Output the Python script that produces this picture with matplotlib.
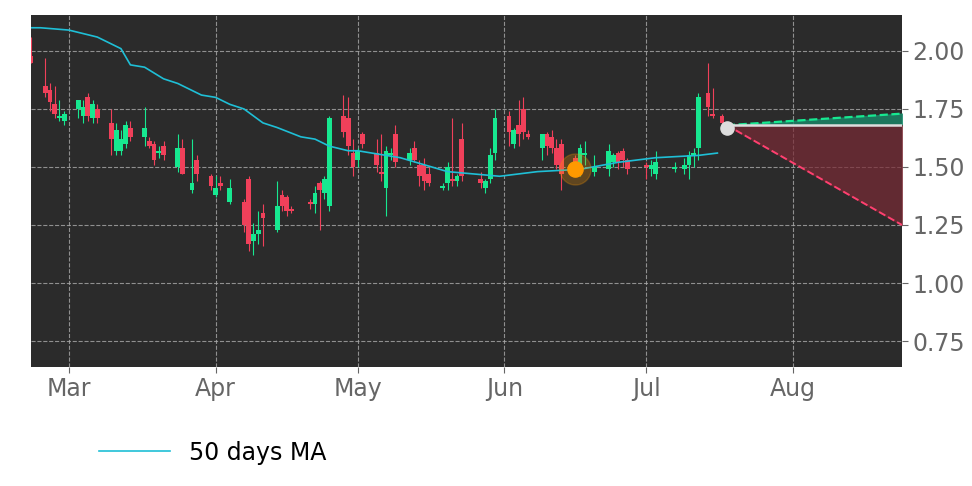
import matplotlib.pyplot as plt
import matplotlib.dates as mdates
import numpy as np
import pandas as pd

base = pd.Timestamp('2021-03-01')

# candles: day offset from Mar 1, open, high, low, close
day = [-8, -5, -4, -3, -2, -1, 2, 3, 4, 5, 6, 9, 10, 11, 12, 13, 16, 17, 18, 19, 20,
       23, 24, 26, 27, 30, 31, 32, 34, 37, 38, 39, 40, 41, 44, 45, 46, 47, 51, 52, 53,
       54, 55, 58, 59, 60, 61, 62, 65, 66, 67, 68, 69, 72, 73, 74, 75, 76, 79, 80, 81,
       82, 83, 87, 88, 89, 90, 93, 94, 95, 96, 97, 100, 101, 102, 103, 104, 107, 108,
       109, 111, 114, 115, 116, 117, 118, 122, 123, 124, 128, 130, 131, 132, 133, 135,
       136, 138]
opn = [1.98, 1.85, 1.83, 1.77, 1.71, 1.70, 1.75, 1.72, 1.80, 1.71, 1.75, 1.69, 1.57, 1.57,
       1.60, 1.67, 1.63, 1.61, 1.60, 1.56, 1.59, 1.50, 1.58, 1.40, 1.53, 1.46, 1.38, 1.43,
       1.35, 1.35, 1.45, 1.18, 1.21, 1.30, 1.23, 1.38, 1.37, 1.32, 1.35, 1.34, 1.43, 1.39,
       1.33, 1.72, 1.71, 1.56, 1.53, 1.64, 1.56, 1.48, 1.41, 1.55, 1.64, 1.53, 1.58, 1.51,
       1.51, 1.47, 1.41, 1.43, 1.45, 1.44, 1.62, 1.45, 1.41, 1.45, 1.56, 1.72, 1.60, 1.68,
       1.75, 1.64, 1.58, 1.64, 1.63, 1.58, 1.60, 1.54, 1.49, 1.55, 1.48, 1.49, 1.52, 1.56,
       1.57, 1.53, 1.51, 1.49, 1.47, 1.49, 1.49, 1.51, 1.55, 1.58, 1.82, 1.73, 1.72]
high = [2.06, 1.97, 1.86, 1.85, 1.79, 1.74, 1.78, 1.79, 1.82, 1.79, 1.77, 1.75, 1.69, 1.66,
        1.70, 1.70, 1.76, 1.63, 1.61, 1.59, 1.61, 1.64, 1.62, 1.62, 1.55, 1.47, 1.46, 1.46,
        1.45, 1.36, 1.46, 1.26, 1.31, 1.34, 1.44, 1.40, 1.38, 1.33, 1.36, 1.42, 1.44, 1.46,
        1.72, 1.81, 1.80, 1.62, 1.58, 1.65, 1.62, 1.64, 1.59, 1.58, 1.68, 1.58, 1.61, 1.53,
        1.54, 1.50, 1.43, 1.52, 1.71, 1.47, 1.69, 1.48, 1.45, 1.58, 1.75, 1.74, 1.67, 1.79,
        1.80, 1.66, 1.64, 1.65, 1.66, 1.62, 1.62, 1.55, 1.60, 1.61, 1.55, 1.60, 1.56, 1.57,
        1.58, 1.54, 1.52, 1.53, 1.57, 1.52, 1.54, 1.57, 1.58, 1.82, 1.95, 1.84, 1.73]
low = [1.95, 1.80, 1.74, 1.71, 1.70, 1.68, 1.71, 1.69, 1.70, 1.69, 1.69, 1.55, 1.55, 1.55,
       1.58, 1.61, 1.59, 1.58, 1.51, 1.54, 1.53, 1.48, 1.47, 1.39, 1.44, 1.40, 1.37, 1.40,
       1.34, 1.22, 1.14, 1.12, 1.17, 1.16, 1.22, 1.31, 1.29, 1.30, 1.32, 1.30, 1.23, 1.36,
       1.31, 1.63, 1.55, 1.46, 1.50, 1.58, 1.48, 1.44, 1.29, 1.53, 1.50, 1.51, 1.52, 1.42,
       1.40, 1.42, 1.40, 1.40, 1.42, 1.42, 1.44, 1.41, 1.39, 1.43, 1.53, 1.59, 1.58, 1.59,
       1.62, 1.62, 1.53, 1.55, 1.56, 1.49, 1.40, 1.46, 1.46, 1.51, 1.46, 1.46, 1.50, 1.49,
       1.50, 1.47, 1.45, 1.46, 1.45, 1.48, 1.47, 1.45, 1.50, 1.53, 1.72, 1.71, 1.67]
close = [1.95, 1.82, 1.78, 1.73, 1.72, 1.73, 1.79, 1.76, 1.72, 1.77, 1.71, 1.62, 1.66, 1.62,
         1.68, 1.63, 1.67, 1.59, 1.53, 1.57, 1.55, 1.58, 1.47, 1.43, 1.47, 1.42, 1.41, 1.42,
         1.41, 1.25, 1.17, 1.21, 1.23, 1.28, 1.33, 1.33, 1.31, 1.31, 1.34, 1.39, 1.40, 1.45,
         1.71, 1.65, 1.59, 1.50, 1.57, 1.60, 1.51, 1.47, 1.57, 1.56, 1.52, 1.56, 1.53, 1.46,
         1.44, 1.43, 1.42, 1.50, 1.44, 1.46, 1.46, 1.43, 1.44, 1.55, 1.71, 1.65, 1.66, 1.64,
         1.65, 1.63, 1.64, 1.59, 1.58, 1.51, 1.47, 1.51, 1.58, 1.56, 1.50, 1.57, 1.55, 1.52,
         1.53, 1.49, 1.50, 1.51, 1.52, 1.50, 1.51, 1.55, 1.56, 1.80, 1.76, 1.72, 1.69]

# 50 day moving average
ma_day = [-9, -6, 0, 6, 11, 13, 16, 20, 23, 28, 31, 34, 37, 41, 44, 49, 52, 55, 59, 61,
          70, 80, 91, 99, 108, 116, 124, 133, 137]
ma_val = [2.10, 2.10, 2.09, 2.06, 2.01, 1.94, 1.93, 1.88, 1.86, 1.81, 1.80, 1.77, 1.75,
          1.69, 1.67, 1.63, 1.62, 1.59, 1.57, 1.57, 1.54, 1.48, 1.46, 1.48, 1.49, 1.52,
          1.54, 1.55, 1.56]

# forecast
fc_day = [139, 176]
fc_mid = [1.68, 1.68]
fc_up = [1.68, 1.73]
fc_low = [1.68, 1.25]
last_price = 1.67
event_day, event_price = 107, 1.49

green, red = '#17e890', '#f0405a'
fig = plt.figure(figsize=(9.72, 4.86), dpi=100)
ax = fig.add_axes([31 / 972, 1 - 367 / 486, 871 / 972, 352 / 486])
ax.set_facecolor('#2b2b2b')

dates = [base + pd.Timedelta(days=d) for d in day]
x = mdates.date2num(dates)
for xi, o, h, l, c in zip(x, opn, high, low, close):
    col = green if c >= o else red
    ax.vlines(xi, l, h, color=col, lw=0.8, zorder=3)
    ax.bar(xi, abs(c - o) or 0.004, bottom=min(o, c), width=1.0, color=col, zorder=4)

ma_x = mdates.date2num([base + pd.Timedelta(days=d) for d in ma_day])
ax.plot(ma_x, ma_val, color='#1fbfd6', lw=1.2, label='50 days MA', zorder=5)

fx = mdates.date2num([base + pd.Timedelta(days=d) for d in fc_day])
ax.fill_between(fx, fc_mid, fc_up, color='#1a8a6a', alpha=0.8, zorder=2)
ax.fill_between(fx, fc_mid, fc_low, color='#7a2a35', alpha=0.7, zorder=2)
ax.plot(fx, fc_up, color=green, lw=1.6, ls='--', zorder=5)
ax.plot(fx, fc_low, color='#ff4070', lw=1.4, ls='--', zorder=5)
ax.plot(fx, fc_mid, color='#dddddd', lw=1.8, zorder=5)
ax.scatter(fx[0], last_price, s=90, color='#dddddd', zorder=6)
ex = mdates.date2num(base + pd.Timedelta(days=event_day))
ax.scatter(ex, event_price, s=500, color='#ff9900', alpha=0.25, zorder=6)
ax.scatter(ex, event_price, s=120, color='#ff9900', zorder=7)

ax.set_xlim(mdates.date2num(base + pd.Timedelta(days=-8)), mdates.date2num(base + pd.Timedelta(days=176)))
ax.set_ylim(0.638, 2.155)
ax.yaxis.tick_right()
ax.set_yticks([0.75, 1.0, 1.25, 1.5, 1.75, 2.0])
ax.set_yticklabels(['0.75', '1.00', '1.25', '1.50', '1.75', '2.00'])
ax.xaxis.set_major_locator(mdates.MonthLocator())
ax.xaxis.set_major_formatter(mdates.DateFormatter('%b'))
ax.tick_params(colors='#666666', labelsize=17, length=4)
ax.grid(True, color='#aaaaaa', ls='--', lw=0.8, alpha=0.8)
for s in ax.spines.values():
    s.set_visible(False)

fig.legend(handles=ax.get_lines()[:1], loc='lower left', bbox_to_anchor=(0.08, 0.0),
           frameon=False, fontsize=17, handlelength=3)
fig.savefig('out.png')
